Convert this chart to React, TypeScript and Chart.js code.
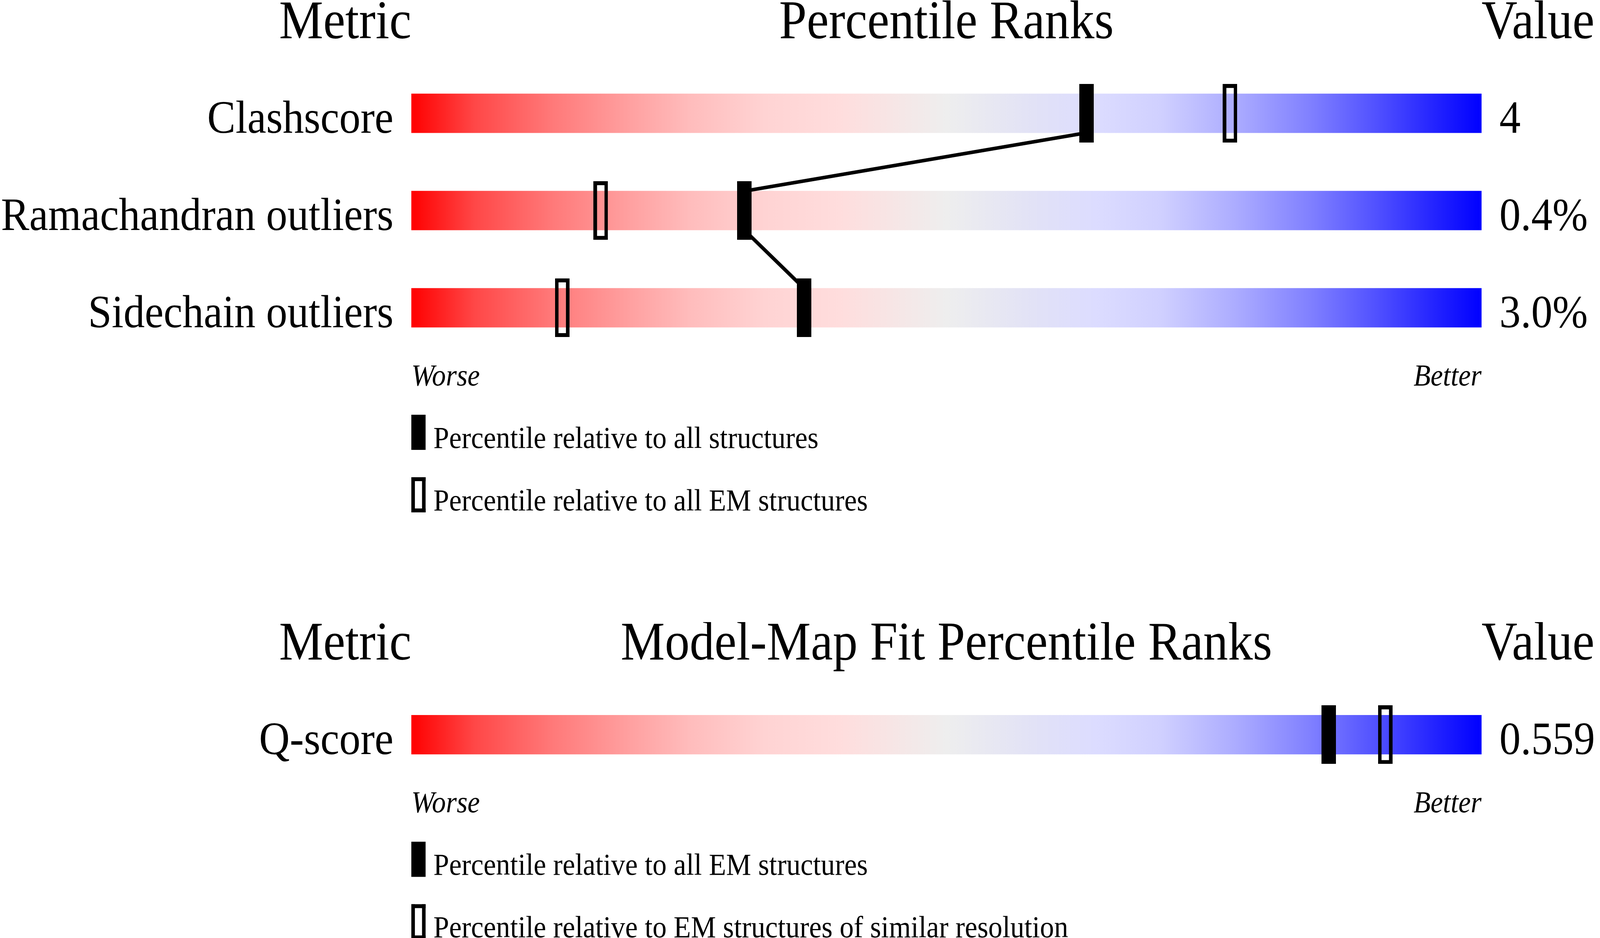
import { Chart, registerables, type Plugin } from "chart.js";
import { useEffect, useRef } from "react";

Chart.register(...registerables);

// values
const TOP_TITLES = ["Metric", "Percentile Ranks", "Value"];
const TOP_LABELS = ["Clashscore", "Ramachandran outliers", "Sidechain outliers"];
const TOP_VALUES = ["4", "0.4%", "3.0%"];
const TOP_PCT_ALL = [63.1, 31.1, 36.7];
const TOP_PCT_EM = [76.5, 17.7, 14.1];
const TOP_LEGEND = ["Percentile relative to all structures", "Percentile relative to all EM structures"];

const FIT_TITLES = ["Metric", "Model-Map Fit Percentile Ranks", "Value"];
const FIT_LABELS = ["Q-score"];
const FIT_VALUES = ["0.559"];
const FIT_PCT_EM = [85.7];
const FIT_PCT_RES = [91.0];
const FIT_LEGEND = [
  "Percentile relative to all EM structures",
  "Percentile relative to EM structures of similar resolution",
];

const SCALE_ENDS = ["Worse", "Better"];

// styling, in reference pixels (4485 x 2402 frame)
const REF_W = 4485;
const REF_H = 2402;
const FONT = '"Liberation Serif", "Times New Roman", serif';
const ROW_PX = 250.5;
const FIRST_CENTER = 287;
const BAR_H = 100;
const MARK_W = 40;
const MARK_H = 150;
const STROKE = 10;
const PAD_LEFT = 1153;
const PAD_RIGHT = 332;

const GRADIENT: [number, string][] = [
  [0, "#ff0000"],
  [0.06, "#ff4848"],
  [0.13, "#ff7878"],
  [0.2, "#ff9e9e"],
  [0.26, "#ffbcbc"],
  [0.33, "#ffd3d3"],
  [0.4, "#ffdddd"],
  [0.5, "#eeeeee"],
  [0.58, "#e2e2f6"],
  [0.64, "#dcdcff"],
  [0.7, "#d0d0ff"],
  [0.77, "#acacff"],
  [0.84, "#8080ff"],
  [0.9, "#5252ff"],
  [0.96, "#2020ff"],
  [1, "#0000ff"],
];

function markerCanvas(filled: boolean, sx: number, sy: number): HTMLCanvasElement {
  const w = Math.round(MARK_W * sx);
  const h = Math.round(MARK_H * sy);
  const sw = Math.round(STROKE * sx);
  const sh = Math.round(STROKE * sy);
  const c = document.createElement("canvas");
  c.width = w;
  c.height = h;
  const g = c.getContext("2d")!;
  g.fillStyle = "#000";
  if (filled) {
    g.fillRect(0, 0, w, h);
  } else {
    g.fillRect(0, 0, w, sh);
    g.fillRect(0, h - sh, w, sh);
    g.fillRect(0, 0, sw, h);
    g.fillRect(w - sw, 0, sw, h);
  }
  return c;
}

interface PanelProps {
  titles: string[];
  labels: string[];
  values: string[];
  pctFilled: number[];
  pctOpen: number[];
  legend: string[];
  refHeight: number;
  linked: boolean;
}

function Panel({ titles, labels, values, pctFilled, pctOpen, legend, refHeight, linked }: PanelProps) {
  const canvasRef = useRef<HTMLCanvasElement>(null);

  useEffect(() => {
    const canvas = canvasRef.current;
    if (!canvas || !canvas.parentElement) return;
    const box = canvas.parentElement;
    const sx = box.clientWidth / REF_W;
    const sy = box.clientHeight / refHeight;
    const half = BAR_H / 2 / ROW_PX;
    const yMin = -FIRST_CENTER / ROW_PX;
    const yMax = yMin + refHeight / ROW_PX;

    // link between the "all structures" markers: bottom of one bar to top of the next
    const link: { x: number; y: number | null }[] = [];
    if (linked) {
      for (let i = 0; i < pctFilled.length - 1; i++) {
        link.push({ x: pctFilled[i], y: i + half });
        link.push({ x: pctFilled[i + 1], y: i + 1 - half });
        link.push({ x: pctFilled[i + 1], y: null });
      }
    }

    const textPlugin: Plugin = {
      id: "sliderText",
      afterDraw(chart) {
        const { ctx, scales } = chart;
        const ys = scales.y;
        const xs = scales.x;
        const left = xs.getPixelForValue(0);
        const right = xs.getPixelForValue(100);
        const bottomOf = (i: number) => ys.getPixelForValue(i) + (BAR_H / 2) * sy;
        const text = (t: string, x: number, y: number, align: CanvasTextAlign, font: string) => {
          ctx.save();
          ctx.translate(x, y);
          ctx.scale(sx, sy);
          ctx.font = font;
          ctx.textAlign = align;
          ctx.textBaseline = "alphabetic";
          ctx.fillStyle = "#000";
          ctx.fillText(t, 0, 0);
          ctx.restore();
        };

        const titleY = ys.getPixelForValue(0) - 192 * sy;
        const titleFont = `139px ${FONT}`;
        text(titles[0], left, titleY, "right", titleFont);
        text(titles[1], (left + right) / 2, titleY, "center", titleFont);
        text(titles[2], right, titleY, "left", titleFont);

        const rowFont = `119px ${FONT}`;
        labels.forEach((l, i) => {
          text(l, left - 50 * sx, bottomOf(i), "right", rowFont);
          text(values[i], right + 50 * sx, bottomOf(i), "left", rowFont);
        });

        const last = bottomOf(labels.length - 1);
        const endFont = `italic 78px ${FONT}`;
        text(SCALE_ENDS[0], left, last + 149 * sy, "left", endFont);
        text(SCALE_ENDS[1], right, last + 149 * sy, "right", endFont);

        const legFont = `79px ${FONT}`;
        legend.forEach((txt, i) => {
          const top = last + (224 + i * 160) * sy;
          const w = MARK_W * sx;
          const h = 90 * sy;
          ctx.save();
          ctx.fillStyle = "#000";
          if (i === 0) {
            ctx.fillRect(left, top, w, h);
          } else {
            const sw = STROKE * sx;
            const sh = STROKE * sy;
            ctx.fillRect(left, top, w, sh);
            ctx.fillRect(left, top + h - sh, w, sh);
            ctx.fillRect(left, top, sw, h);
            ctx.fillRect(left + w - sw, top, sw, h);
          }
          ctx.restore();
          text(txt, left + 62 * sx, top + 85 * sy, "left", legFont);
        });
      },
    };

    const chart = new Chart(canvas, {
      type: "scatter",
      data: {
        datasets: [
          {
            type: "scatter",
            label: "open",
            data: pctOpen.map((p, i) => ({ x: p, y: i })),
            pointStyle: markerCanvas(false, sx, sy),
            pointRadius: 1,
            order: 0,
          },
          {
            type: "scatter",
            label: "filled",
            data: pctFilled.map((p, i) => ({ x: p, y: i })),
            pointStyle: markerCanvas(true, sx, sy),
            pointRadius: 1,
            order: 1,
          },
          {
            type: "line",
            label: "link",
            data: link,
            borderColor: "#000",
            borderWidth: 10 * Math.min(sx, sy),
            pointRadius: 0,
            tension: 0,
            spanGaps: false,
            fill: false,
            order: 2,
          },
          {
            type: "bar",
            label: "scale",
            indexAxis: "y",
            data: labels.map((_, i) => ({ x: [0, 100], y: i })),
            barThickness: BAR_H * sy,
            borderWidth: 0,
            backgroundColor: (c: any) => {
              const ch = c.chart;
              if (!ch.chartArea) return "transparent";
              const xs = ch.scales.x;
              const g = ch.ctx.createLinearGradient(xs.getPixelForValue(0), 0, xs.getPixelForValue(100), 0);
              GRADIENT.forEach(([o, col]) => g.addColorStop(o, col));
              return g;
            },
            order: 3,
          } as any,
        ],
      },
      options: {
        responsive: true,
        maintainAspectRatio: false,
        animation: false,
        events: [],
        layout: { padding: { left: PAD_LEFT * sx, right: PAD_RIGHT * sx, top: 0, bottom: 0 } },
        plugins: { legend: { display: false }, tooltip: { enabled: false } },
        scales: {
          x: { type: "linear", min: 0, max: 100, offset: false, grace: 0, display: false },
          y: { type: "linear", min: yMin, max: yMax, reverse: true, offset: false, grace: 0, display: false },
        },
      },
      plugins: [textPlugin],
    });
    return () => chart.destroy();
  }, [titles, labels, values, pctFilled, pctOpen, legend, refHeight, linked]);

  return (
    <div style={{ position: "relative", width: "100%", height: `${(refHeight / REF_H) * 100}%` }}>
      <canvas ref={canvasRef} />
    </div>
  );
}

export default function App() {
  return (
    <div
      style={{
        position: "fixed",
        left: 0,
        top: 0,
        width: "100vw",
        height: "100vh",
        background: "#fff",
        overflow: "hidden",
      }}
    >
      <Panel
        titles={TOP_TITLES}
        labels={TOP_LABELS}
        values={TOP_VALUES}
        pctFilled={TOP_PCT_ALL}
        pctOpen={TOP_PCT_EM}
        legend={TOP_LEGEND}
        refHeight={1593}
        linked
      />
      <Panel
        titles={FIT_TITLES}
        labels={FIT_LABELS}
        values={FIT_VALUES}
        pctFilled={FIT_PCT_EM}
        pctOpen={FIT_PCT_RES}
        legend={FIT_LEGEND}
        refHeight={809}
        linked={false}
      />
    </div>
  );
}
